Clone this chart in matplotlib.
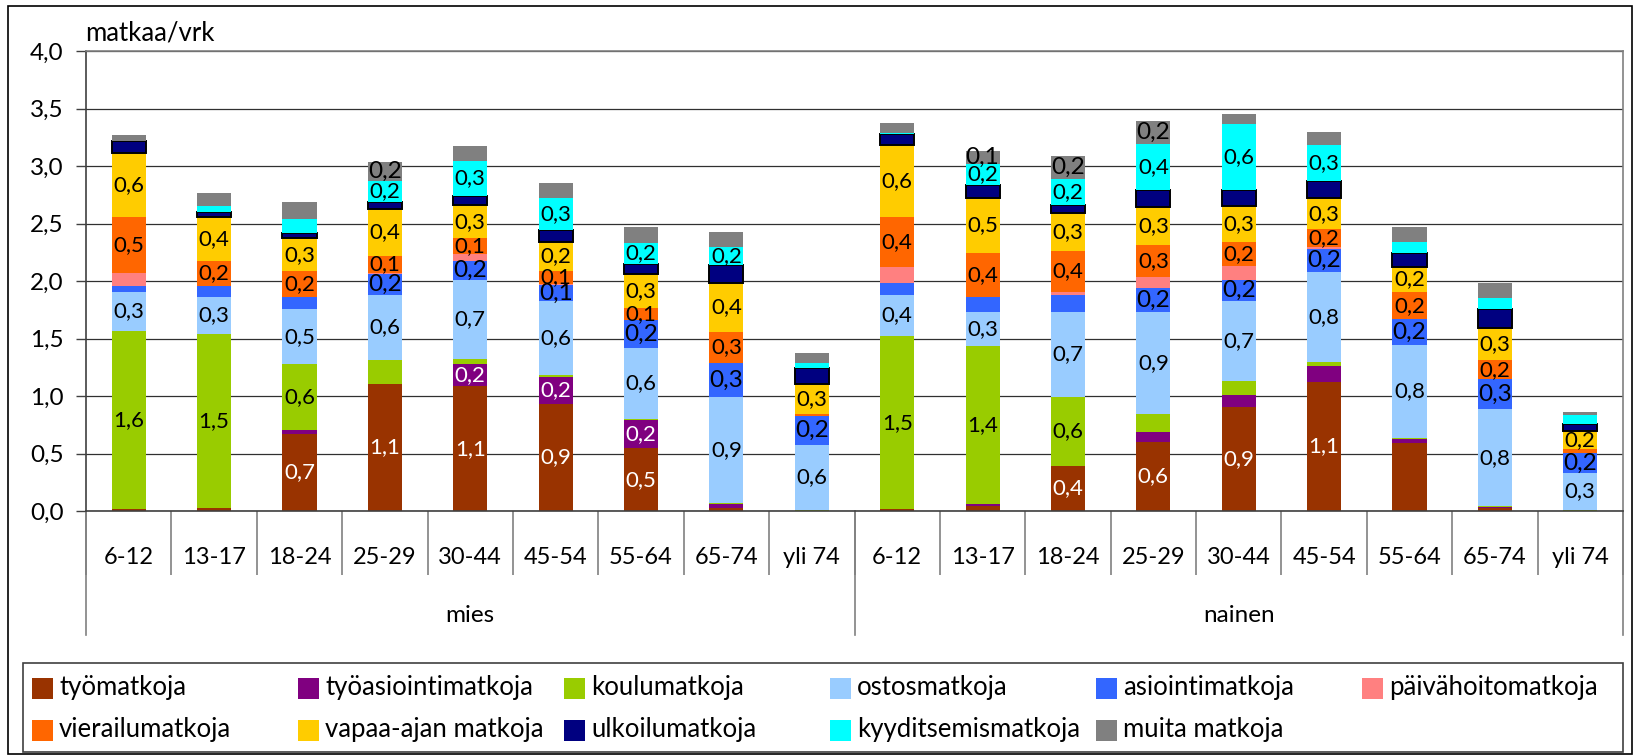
"""
Matkat per vuorokausi sukupuolen, ikäryhmän ja matkan tarkoituksen mukaan.
Pinottu pylväskuvio, kaksitasoinen luokka-akseli ja Excel-tyylinen selite.
"""

import numpy as np
import matplotlib
matplotlib.use("Agg")
import matplotlib.pyplot as plt
from matplotlib.patches import Rectangle

plt.rcParams["font.family"] = ["Lato", "DejaVu Sans"]


# ─── Data ─────────────────────────────────────────────────────────────────────

AGE_GROUPS = ["6-12", "13-17", "18-24", "25-29", "30-44", "45-54", "55-64", "65-74", "yli 74"]
GENDERS = ["mies", "nainen"]
CATEGORIES = AGE_GROUPS * len(GENDERS)

SERIES_NAMES = [
    "työmatkoja", "työasiointimatkoja", "koulumatkoja", "ostosmatkoja",
    "asiointimatkoja", "päivähoitomatkoja", "vierailumatkoja", "vapaa-ajan matkoja",
    "ulkoilumatkoja", "kyyditsemismatkoja", "muita matkoja",
]
SERIES_COLORS = [
    "#993300", "#800080", "#99CC00", "#99CCFF", "#3366FF", "#FF8080",
    "#FF6600", "#FFCC00", "#000080", "#00FFFF", "#808080",
]

#             mies: 6-12 ... yli 74                                       nainen: 6-12 ... yli 74
TYO         = [0.014, 0.03, 0.67, 1.107, 1.084, 0.934, 0.545, 0.03, 0.0,   0.015, 0.043, 0.391, 0.60, 0.907, 1.125, 0.594, 0.029, 0.0]
TYOASIOINTI = [0.0, 0.0, 0.035, 0.0, 0.191, 0.231, 0.249, 0.03, 0.0,       0.0, 0.018, 0.0, 0.087, 0.10, 0.136, 0.029, 0.005, 0.0]
KOULU       = [1.555, 1.505, 0.572, 0.202, 0.049, 0.014, 0.01, 0.01, 0.005, 1.505, 1.374, 0.60, 0.156, 0.12, 0.035, 0.015, 0.01, 0.012]
OSTOS       = [0.333, 0.33, 0.477, 0.573, 0.688, 0.645, 0.613, 0.92, 0.572, 0.36, 0.296, 0.739, 0.887, 0.696, 0.782, 0.805, 0.84, 0.322]
ASIOINTI    = [0.052, 0.09, 0.104, 0.179, 0.164, 0.14, 0.24, 0.30, 0.246,  0.10, 0.131, 0.148, 0.209, 0.19, 0.20, 0.227, 0.26, 0.169]
PAIVAHOITO  = [0.118, 0.0, 0.0, 0.01, 0.058, 0.01, 0.0, 0.0, 0.0,          0.14, 0.0, 0.026, 0.096, 0.116, 0.018, 0.0, 0.0, 0.0]
VIERAILU    = [0.486, 0.222, 0.226, 0.145, 0.14, 0.116, 0.107, 0.27, 0.023, 0.44, 0.383, 0.357, 0.278, 0.206, 0.156, 0.231, 0.165, 0.04]
VAPAA_AIKA  = [0.558, 0.382, 0.286, 0.413, 0.284, 0.245, 0.297, 0.42, 0.26, 0.62, 0.478, 0.333, 0.328, 0.313, 0.267, 0.224, 0.281, 0.154]
ULKOILU     = [0.101, 0.037, 0.049, 0.058, 0.081, 0.11, 0.09, 0.16, 0.138, 0.10, 0.113, 0.067, 0.15, 0.139, 0.151, 0.116, 0.168, 0.059]
KYYDITYS    = [0.0, 0.058, 0.124, 0.185, 0.303, 0.275, 0.176, 0.156, 0.044, 0.01, 0.18, 0.226, 0.40, 0.574, 0.313, 0.098, 0.096, 0.075]
MUITA       = [0.052, 0.113, 0.148, 0.167, 0.13, 0.133, 0.145, 0.13, 0.087, 0.08, 0.116, 0.2, 0.20, 0.087, 0.113, 0.13, 0.13, 0.032]

SERIES_VALUES = [TYO, TYOASIOINTI, KOULU, OSTOS, ASIOINTI, PAIVAHOITO,
                 VIERAILU, VAPAA_AIKA, ULKOILU, KYYDITYS, MUITA]

# which bars carry a data label, per series (the original had some removed)
LABELLED = [
    [2, 3, 4, 5, 6, 11, 12, 13, 14],
    [4, 5, 6],
    [0, 1, 2, 9, 10, 11],
    list(range(18)),
    [3, 4, 5, 6, 7, 8, 12, 13, 14, 15, 16, 17],
    [],
    [0, 1, 2, 3, 4, 5, 6, 7, 9, 10, 11, 12, 13, 14, 15, 16],
    list(range(18)),
    [],
    [3, 4, 5, 6, 7, 10, 11, 12, 13, 14],
    [3, 10, 11, 12],
]

Y_TICKS = np.arange(0, 4.01, 0.5)


# ─── Figure geometry (pixels of the 1635x755 output) ──────────────────────────

W, H = 1635, 755
PLOT_LEFT, PLOT_RIGHT, PLOT_TOP, PLOT_BOTTOM = 86, 1623, 51, 511
FONT_SIZE = 16


def px_x(x):
    return x / W


def px_y(y):
    return 1 - y / H


def fmt(v):
    return f"{v:.1f}".replace(".", ",")


# ─── Drawing ──────────────────────────────────────────────────────────────────

fig = plt.figure(figsize=(W / 100, H / 100), dpi=100)
ax = fig.add_axes([px_x(PLOT_LEFT), px_y(PLOT_BOTTOM),
                   (PLOT_RIGHT - PLOT_LEFT) / W, (PLOT_BOTTOM - PLOT_TOP) / H])

x = np.arange(len(CATEGORIES))
bottom = np.zeros(len(CATEGORIES))
for i, (name, values, color) in enumerate(zip(SERIES_NAMES, SERIES_VALUES, SERIES_COLORS)):
    values = np.array(values)
    is_ulkoilu = name == "ulkoilumatkoja"
    ax.bar(x, values, bottom=bottom, width=0.40, color=color,
           edgecolor="black" if is_ulkoilu else "none",
           linewidth=1.4 if is_ulkoilu else 0, zorder=2)

    text_color = "white" if i < 2 else "black"
    size = FONT_SIZE * 1.1 if name in ("asiointimatkoja", "muita matkoja") else FONT_SIZE
    for j in LABELLED[i]:
        ax.text(x[j], bottom[j] + values[j] / 2, fmt(values[j]),
                ha="center", va="center", color=text_color, fontsize=size, zorder=3)
    bottom += values

# y axis
ax.set_ylim(0, 4)
ax.set_yticks(Y_TICKS)
ax.set_yticklabels([fmt(t) for t in Y_TICKS], fontsize=FONT_SIZE + 1.5)
ax.tick_params(axis="y", length=7, width=1, color="#404040", pad=9)
ax.yaxis.grid(True, color="#303030", linewidth=0.9)
ax.set_axisbelow(True)

for side in ("top", "right"):
    ax.spines[side].set_color("#808080")
    ax.spines[side].set_linewidth(1.2)
for side in ("left", "bottom"):
    ax.spines[side].set_color("#404040")
    ax.spines[side].set_linewidth(1.2)

# two-level category axis
ax.set_xlim(-0.5, len(CATEGORIES) - 0.5)
ax.set_xticks([])
ax.set_xticks(np.arange(-0.5, len(CATEGORIES), 1), minor=True)
ax.tick_params(axis="x", which="minor", length=46, width=1.2, color="#808080")
ax.set_xticklabels([], minor=True)

xt = ax.get_xaxis_transform()
axis_h = PLOT_BOTTOM - PLOT_TOP
for j, label in enumerate(CATEGORIES):
    ax.text(j, -(558 - PLOT_BOTTOM) / axis_h, label, transform=xt,
            ha="center", va="center", fontsize=FONT_SIZE + 1)

n_age = len(AGE_GROUPS)
for g, gender in enumerate(GENDERS):
    ax.text(g * n_age + (n_age - 1) / 2, -(615 - PLOT_BOTTOM) / axis_h, gender,
            transform=xt, ha="center", va="center", fontsize=FONT_SIZE + 1.5)
for edge in np.arange(len(GENDERS) + 1) * n_age - 0.5:
    ax.plot([edge, edge], [0, -(635 - PLOT_BOTTOM) / axis_h], transform=xt,
            color="#808080", linewidth=1.2, clip_on=False)

fig.text(px_x(85), px_y(33), "matkaa/vrk", ha="left", va="center", fontsize=FONT_SIZE + 2.5)

# legend, laid out on an even grid like the Excel original
fig.patches.append(Rectangle((px_x(23), px_y(752)), px_x(1623 - 23), (752 - 663) / H,
                             transform=fig.transFigure, fill=False,
                             edgecolor="#404040", linewidth=1.2))
for i, (name, color) in enumerate(zip(SERIES_NAMES, SERIES_COLORS)):
    row, col = divmod(i, 6)
    left = 32 + 266 * col
    cy = 688 + 42 * row
    fig.patches.append(Rectangle((px_x(left), px_y(cy + 10.5)), px_x(21), 21 / H,
                                 transform=fig.transFigure, facecolor=color, edgecolor="none"))
    fig.text(px_x(left + 27), px_y(cy), name, ha="left", va="center", fontsize=FONT_SIZE + 2.5)

# outer chart border
fig.patches.append(Rectangle((px_x(8), px_y(754)), px_x(1632 - 8), (754 - 6) / H,
                             transform=fig.transFigure, fill=False,
                             edgecolor="black", linewidth=1.2))

fig.savefig("out.png", dpi=100)
